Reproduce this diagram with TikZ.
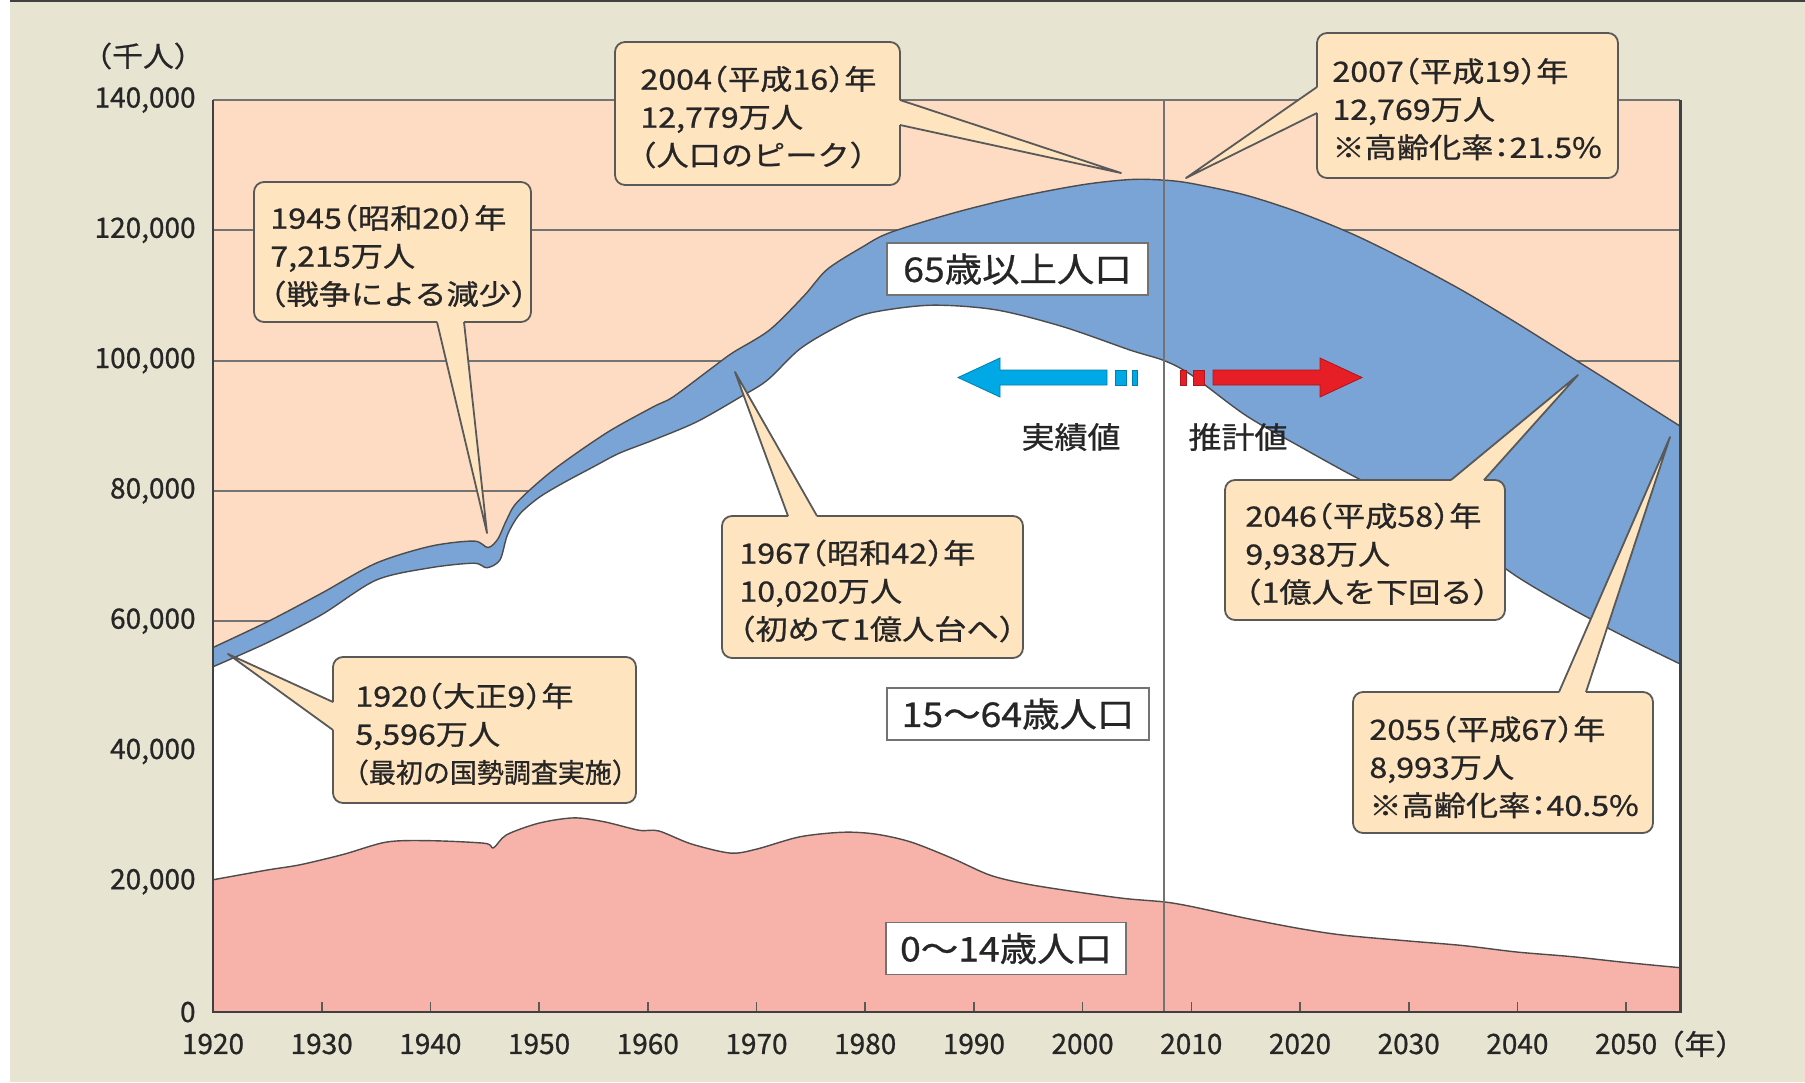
\documentclass[tikz,border=0pt]{standalone}
\usepackage{fontspec}
\setmainfont{Noto Sans CJK JP}
\newfontfamily\jpcall{Noto Sans CJK JP}[FakeStretch=1.15,FakeBold=0.8,RawFeature=+halt]
\newfontfamily\jplab{Noto Sans CJK JP}[FakeStretch=1.1,FakeBold=0.8,RawFeature=+halt]
\newfontfamily\jpplain{Noto Sans CJK JP}[FakeBold=0.8,RawFeature=+halt]
\newfontfamily\jpaxis{Noto Sans CJK JP}[FakeStretch=1.1,FakeBold=0.8,RawFeature=+halt]

\definecolor{bgbeige}{HTML}{E8E4D2}
\definecolor{peach}{HTML}{FDDCC3}
\definecolor{oldblue}{HTML}{7AA4D5}
\definecolor{youngpink}{HTML}{F7B2A9}
\definecolor{callfill}{HTML}{FFE4C0}
\definecolor{ink}{HTML}{262626}
\definecolor{arrowblue}{HTML}{00A9E6}
\definecolor{arrowred}{HTML}{E61E25}

\begin{document}
\begin{tikzpicture}[x=0.5pt,y=-0.5pt,
  area/.style={draw=black!70,line width=0.7pt,line join=round},
  gridline/.style={draw=black!55,line width=0.9pt},
  cline/.style={draw=black!65,line width=0.9pt,line join=round},
  ctext/.style={inner sep=0pt,align=left,text=ink,anchor=west,
    font=\jpcall\fontsize{14}{19}\selectfont},
  agebox/.style={draw=black!55,line width=0.8pt,fill=white,inner sep=0pt,
    text=ink,font=\jplab\fontsize{17}{20}\selectfont,minimum height=26pt},
  note/.style={inner sep=0pt,text=ink,font=\jplab\fontsize{15}{18}\selectfont},
  ylab/.style={inner sep=0pt,anchor=east,text=ink,font=\jpplain\fontsize{14}{16}\selectfont},
  xlab/.style={inner sep=0pt,text=ink,font=\jpplain\fontsize{14}{16}\selectfont},
  blockblue/.style={fill=arrowblue,draw=arrowblue!75!black,line width=0.4pt},
  blockred/.style={fill=arrowred,draw=arrowred!75!black,line width=0.4pt}]

% page background
\useasboundingbox (0,0) rectangle (1805,1082);
\fill[bgbeige] (0,0) rectangle (1805,1082);
\fill[white] (0,0) rectangle (10,1082);
\fill[black!75] (10,0) rectangle (1805,2);

% plot field
\fill[peach] (213,100) rectangle (1678,1012);

\begin{scope}[shift={(213,1012)},x=5.435pt,y=3.257pt]
  % horizontal grid
  \foreach \v in {20,40,...,120} \draw[gridline] (0,\v) -- (135,\v);
  % total population (65+ on top)
  \filldraw[area,fill=oldblue] (0,0) -- plot[smooth,tension=.5] coordinates {
    (0,55.96) (5,59.9) (10,64.3) (15,68.9) (20,71.5) (24,72.3) (25.3,71.3)
    (26.2,72.6) (27,75.5) (28,78.3) (31.3,83.2) (36.2,88.9) (40.5,92.9)
    (42.3,94.4) (46,99.0) (47.8,101.2) (51.2,104.7) (54.4,110.0) (56.5,114.0)
    (59.7,117.4) (62.2,119.6) (68,122.6) (74,125.1) (80,127.0) (84.4,127.8)
    (87.5,127.7) (90,127.2) (95,125.4) (100,122.7) (105,119.3) (110,115.2)
    (115,110.7) (120,105.7) (126,99.4) (130,95.2) (135,89.9)} -- (135,0) -- cycle;
  % under 65
  \filldraw[area,fill=white] (0,0) -- plot[smooth,tension=.5] coordinates {
    (0,53.0) (5,56.7) (10,61.0) (15,66.3) (20,68.2) (24,68.9) (25.2,68.2)
    (26.4,69.4) (27.1,73.3) (28.2,76.4) (30,79.0) (32.2,81.2) (35,83.7)
    (37.4,85.8) (40.5,87.8) (44.5,90.6) (48.5,94.4) (51,97.0) (54,101.8)
    (57.4,105.2) (60.4,107.3) (66,108.5) (72,107.8) (78.2,105.2) (84.4,101.6)
    (87.5,100.0) (90,97.8) (95,91.6) (100,86.8) (105,82.2) (110,78.0)
    (115,72.8) (120,66.8) (125,61.9) (130,57.5) (135,53.4)} -- (135,0) -- cycle;
  % under 15
  \filldraw[area,fill=youngpink] (0,0) -- plot[smooth,tension=.5] coordinates {
    (0,20.3) (5,21.8) (8,22.6) (12,24.2) (16,26.1) (20,26.3) (25,25.9)
    (25.8,25.2) (27,27.2) (30,29.0) (33.2,29.8) (36,29.2) (39.2,27.9)
    (41,27.8) (44,25.8) (47.6,24.4) (50,25.0) (54,26.9) (58,27.6) (61,27.3)
    (64.2,26.1) (68,23.6) (71.5,21.0) (75,19.6) (80,18.3) (84,17.4) (87.5,16.9)
    (90,16.2) (95,14.4) (100,12.8) (104,11.8) (110,10.9) (115,10.2)
    (120,9.2) (125,8.5) (130,7.6) (135,6.8)} -- (135,0) -- cycle;
  % boundary between actual and projected values
  \draw[black!55,line width=0.9pt] (87.5,0) -- (87.5,140);
  % ticks
  \foreach \k in {1,...,13} \draw[black!65,line width=0.8pt] (10*\k,0) -- ++(0,1.5);
  % frame
  \draw[black!55,line width=1.1pt] (0,140) -- (135,140);
  \draw[black!75,line width=1.1pt] (0,140) -- (0,0) -- (135,0) -- (135,140);
  % axis labels
  \foreach \v/\t in {0/0,20/{20,000},40/{40,000},60/{60,000},80/{80,000},
      100/{100,000},120/{120,000},140/{140,000}}
    \node[ylab] (y\v) at ([xshift=-8.5pt]0,\v) {\t};
  \foreach \k in {0,...,13} {
    \pgfmathtruncatemacro\yr{1920+10*\k}
    \node[xlab] (x\yr) at ([yshift=-16pt]10*\k,0) {\yr};
  }
\end{scope}

\node[xlab,font=\jpaxis\fontsize{14}{16}\selectfont] (unitx) at (1700,1044) {（年）};
\node[xlab,font=\jpaxis\fontsize{14}{16}\selectfont] (unity) at (143,56) {（千人）};

% age group labels
\node[agebox,minimum width=130.5pt] (l65) at (1017.5,269) {65歳以上人口};
\node[agebox,minimum width=131pt] (l15) at (1018,714) {15〜64歳人口};
\node[agebox,minimum width=120pt] (l0) at (1006,948.5) {0〜14歳人口};

% actual / projected arrows
\filldraw[blockblue] (958,377.5) -- (1000,358) -- (1000,370) -- (1107,370)
  -- (1107,385) -- (1000,385) -- (1000,397) -- cycle;
\filldraw[blockblue] (1115,370) rectangle (1126,385);
\filldraw[blockblue] (1132,370) rectangle (1137,385);
\filldraw[blockred] (1362,377.5) -- (1320,358) -- (1320,370) -- (1213,370)
  -- (1213,385) -- (1320,385) -- (1320,397) -- cycle;
\filldraw[blockred] (1193,370) rectangle (1204,385);
\filldraw[blockred] (1180,370) rectangle (1186,385);
\node[note] (actual) at (1071,437) {実績値};
\node[note] (projected) at (1238,437) {推計値};

% callouts
% 1945
\coordinate (t1945) at (487,533);
\fill[callfill,rounded corners=5pt] (254,182) rectangle (531,322);
\fill[callfill] (437,322) -- (t1945) -- (464,322) -- cycle;
\draw[cline,rounded corners=5pt] (464,322) -- (531,322) -- (531,182) -- (254,182) -- (254,322) -- (437,322);
\draw[cline] (437,322) -- (t1945) -- (464,322);
\node[ctext] (c1945) at (270,256) {1945（昭和20）年\\7,215万人\\（戦争による減少）};

% 2004
\coordinate (t2004) at (1121,173);
\fill[callfill,rounded corners=5pt] (615,42) rectangle (900,185);
\fill[callfill] (900,100) -- (t2004) -- (900,125) -- cycle;
\draw[cline,rounded corners=5pt] (900,125) -- (900,185) -- (615,185) -- (615,42) -- (900,42) -- (900,100);
\draw[cline] (900,100) -- (t2004) -- (900,125);
\node[ctext] (c2004) at (640,117) {2004（平成16）年\\12,779万人\\（人口のピーク）};

% 2007
\coordinate (t2007) at (1186,178);
\fill[callfill,rounded corners=5pt] (1317,33) rectangle (1618,178);
\fill[callfill] (1317,87) -- (t2007) -- (1317,113) -- cycle;
\draw[cline,rounded corners=5pt] (1317,87) -- (1317,33) -- (1618,33) -- (1618,178) -- (1317,178) -- (1317,113);
\draw[cline] (1317,87) -- (t2007) -- (1317,113);
\node[ctext] (c2007) at (1332,109) {2007（平成19）年\\12,769万人\\※高齢化率：21.5\%};

% 1920
\coordinate (t1920) at (228,654);
\fill[callfill,rounded corners=5pt] (333,657) rectangle (636,803);
\fill[callfill] (333,702) -- (t1920) -- (333,730) -- cycle;
\draw[cline,rounded corners=5pt] (333,702) -- (333,657) -- (636,657) -- (636,803) -- (333,803) -- (333,730);
\draw[cline] (333,702) -- (t1920) -- (333,730);
\node[ctext] (c1920) at (355,734) {1920（大正9）年\\5,596万人\\{\jpplain\fontsize{13.5}{19}\selectfont（最初の国勢調査実施）}};

% 1967
\coordinate (t1967) at (735,372);
\fill[callfill,rounded corners=5pt] (722,516) rectangle (1023,658);
\fill[callfill] (788,516) -- (t1967) -- (817,516) -- cycle;
\draw[cline,rounded corners=5pt] (817,516) -- (1023,516) -- (1023,658) -- (722,658) -- (722,516) -- (788,516);
\draw[cline] (788,516) -- (t1967) -- (817,516);
\node[ctext] (c1967) at (739,591) {1967（昭和42）年\\10,020万人\\（初めて1億人台へ）};

% 2046
\coordinate (t2046) at (1578,375);
\fill[callfill,rounded corners=5pt] (1225,480) rectangle (1505,620);
\fill[callfill] (1451,480) -- (t2046) -- (1484,480) -- cycle;
\draw[cline,rounded corners=5pt] (1484,480) -- (1505,480) -- (1505,620) -- (1225,620) -- (1225,480) -- (1451,480);
\draw[cline] (1451,480) -- (t2046) -- (1484,480);
\node[ctext] (c2046) at (1245,554) {2046（平成58）年\\9,938万人\\（1億人を下回る）};

% 2055
\coordinate (t2055) at (1670,437);
\fill[callfill,rounded corners=5pt] (1353,692) rectangle (1653,833);
\fill[callfill] (1559,692) -- (t2055) -- (1586,692) -- cycle;
\draw[cline,rounded corners=5pt] (1586,692) -- (1653,692) -- (1653,833) -- (1353,833) -- (1353,692) -- (1559,692);
\draw[cline] (1559,692) -- (t2055) -- (1586,692);
\node[ctext] (c2055) at (1369,767) {2055（平成67）年\\8,993万人\\※高齢化率：40.5\%};

\end{tikzpicture}
\end{document}
